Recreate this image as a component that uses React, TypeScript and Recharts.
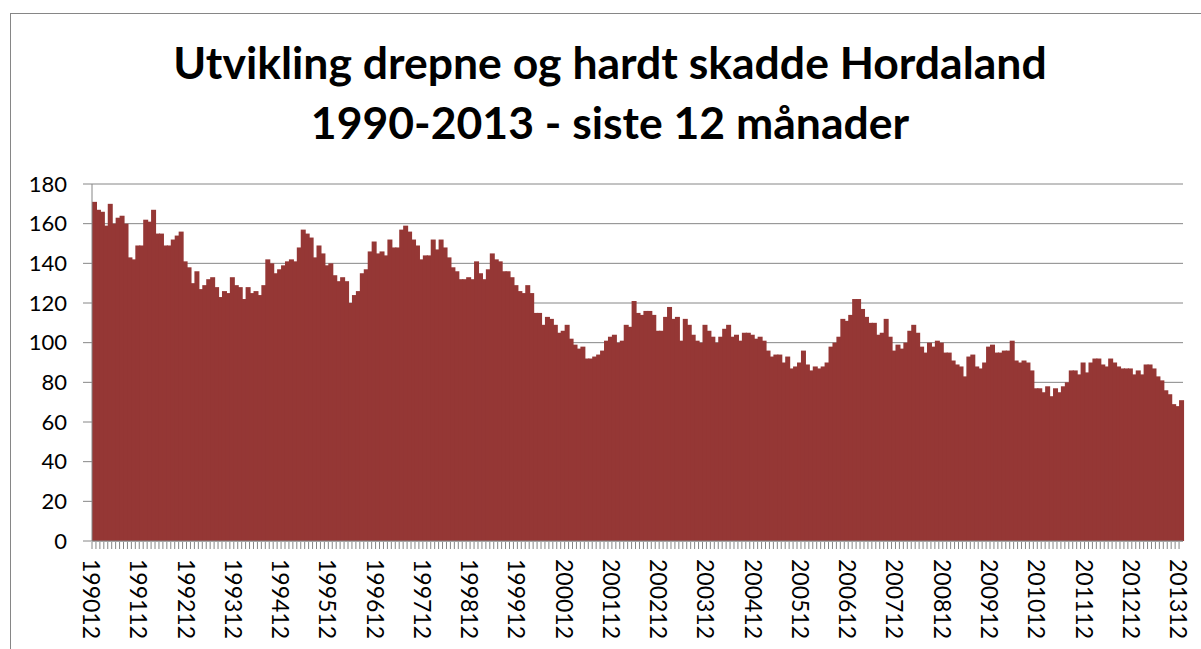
import { BarChart, Bar, XAxis, YAxis, CartesianGrid } from 'recharts'

// 12-month rolling count, monthly from 1990-12 to 2013-12
const TICK_LABELS = [
  '199012', '199112', '199212', '199312', '199412', '199512', '199612', '199712',
  '199812', '199912', '200012', '200112', '200212', '200312', '200412', '200512',
  '200612', '200712', '200812', '200912', '201012', '201112', '201212', '201312',
]

const KILLED_INJURED = [
  171, 167, 166, 159, 170, 160, 163, 164, 160, 143, 142, 149,
  149, 162, 161, 167, 155, 155, 149, 149, 152, 154, 156, 141,
  138, 130, 136, 127, 129, 132, 133, 128, 123, 126, 125, 133,
  129, 128, 122, 128, 125, 126, 124, 129, 142, 140, 135, 137,
  139, 141, 142, 141, 148, 157, 155, 153, 143, 149, 145, 139,
  140, 134, 131, 133, 131, 120, 124, 126, 135, 137, 146, 151,
  145, 146, 144, 152, 148, 148, 157, 159, 156, 152, 149, 142,
  144, 144, 152, 147, 152, 148, 143, 138, 136, 132, 132, 133,
  132, 141, 135, 132, 137, 145, 142, 141, 136, 136, 133, 129,
  126, 125, 129, 125, 115, 115, 109, 113, 112, 109, 105, 106,
  109, 102, 99, 97, 98, 92, 92, 93, 94, 96, 101, 103,
  104, 100, 101, 109, 108, 121, 115, 114, 116, 116, 114, 106,
  106, 113, 118, 112, 113, 101, 112, 109, 104, 101, 100, 109,
  106, 103, 100, 103, 107, 109, 103, 104, 101, 105, 105, 104,
  102, 103, 101, 96, 93, 94, 94, 90, 93, 87, 88, 90,
  96, 89, 86, 88, 87, 88, 90, 98, 100, 103, 112, 111,
  114, 122, 122, 117, 113, 110, 110, 104, 105, 112, 103, 96,
  99, 97, 100, 106, 109, 105, 98, 95, 100, 98, 101, 100,
  95, 95, 91, 89, 88, 83, 93, 94, 88, 87, 90, 98,
  99, 95, 95, 96, 96, 101, 91, 90, 91, 90, 86, 77,
  77, 75, 78, 73, 77, 75, 78, 80, 86, 86, 84, 90,
  85, 90, 92, 92, 89, 88, 92, 90, 88, 87, 87, 87,
  84, 86, 84, 89, 89, 87, 83, 81, 76, 74, 69, 68, 71,
]

const Y_TICKS = [0, 20, 40, 60, 80, 100, 120, 140, 160, 180]

// month keys YYYYMM, starting at 199012
const MONTHS: string[] = KILLED_INJURED.map((_, i) => {
  const m = 12 + i
  const year = 1990 + Math.floor((m - 1) / 12)
  const month = ((m - 1) % 12) + 1
  return `${year}${String(month).padStart(2, '0')}`
})

const data = MONTHS.map((month, i) => ({ month, value: KILLED_INJURED[i] }))

const GRAY = '#868686'
const BAR_RED = '#953735'
const FONT = 'Lato, "Open Sans", sans-serif'
const CHART_W = 1190
const MARGIN = { top: 170, right: 18, left: 0, bottom: 9 }
const Y_AXIS_W = 81
const PLOT_W = CHART_W - MARGIN.left - MARGIN.right - Y_AXIS_W

// bars are floored to whole pixels, so widen them a little to close the gaps
function SolidBar(props: any) {
  const { x, y, width, height } = props
  if (!height || height <= 0) return null
  return <rect x={x} y={y} width={width + 1} height={height} fill={BAR_RED} />
}

function MonthTick(props: any) {
  const { x, y, payload } = props
  const half = payload?.offset ?? PLOT_W / MONTHS.length / 2
  const edge = x - half
  const showLabel = TICK_LABELS.includes(payload.value)
  const ty = y + 18
  return (
    <g>
      <line x1={edge} y1={y + 1} x2={edge} y2={y + 8} stroke={GRAY} strokeWidth={1} />
      {showLabel && (
        <text x={edge} y={ty} transform={`rotate(90 ${edge} ${ty})`}
          textAnchor="start" dominantBaseline="central"
          fontSize={23} fill="#000" fontFamily={FONT}>
          {payload.value}
        </text>
      )}
    </g>
  )
}

export default function App() {
  return (
    <div style={{ position: 'absolute', left: 0, top: 0, width: 1201, height: 649, overflow: 'hidden', background: '#fff' }}>
      <div style={{
        position: 'absolute', left: 10, top: 13, width: 1205, height: 660,
        border: `1px solid ${GRAY}`, background: '#fff',
      }}>
        <BarChart width={CHART_W} height={636} data={data} margin={MARGIN}
          barCategoryGap={0} barGap={0}>
          <CartesianGrid vertical={false} stroke={GRAY} strokeWidth={1} />
          <XAxis dataKey="month" interval={0} tickSize={0} tickMargin={0} height={100}
            axisLine={{ stroke: GRAY }} tickLine={false} tick={<MonthTick />} />
          <YAxis domain={[0, 180]} ticks={Y_TICKS} interval={0} width={Y_AXIS_W}
            tickSize={9} tickMargin={16}
            axisLine={{ stroke: GRAY }} tickLine={{ stroke: GRAY }}
            tick={{ fontSize: 22, fill: '#000', fontFamily: FONT }} />
          <Bar dataKey="value" fill={BAR_RED} shape={<SolidBar />} isAnimationActive={false} />
        </BarChart>
        <svg width={1190} height={160} style={{ position: 'absolute', left: 0, top: 0, pointerEvents: 'none' }}>
          <text x={599} y={65} textAnchor="middle" fontSize={44.5} fontWeight="bold" fontFamily={FONT} fill="#000">
            Utvikling drepne og hardt skadde Hordaland
          </text>
          <text x={599} y={125} textAnchor="middle" fontSize={44.5} fontWeight="bold" fontFamily={FONT} fill="#000">
            1990-2013 - siste 12 månader
          </text>
        </svg>
      </div>
    </div>
  )
}
